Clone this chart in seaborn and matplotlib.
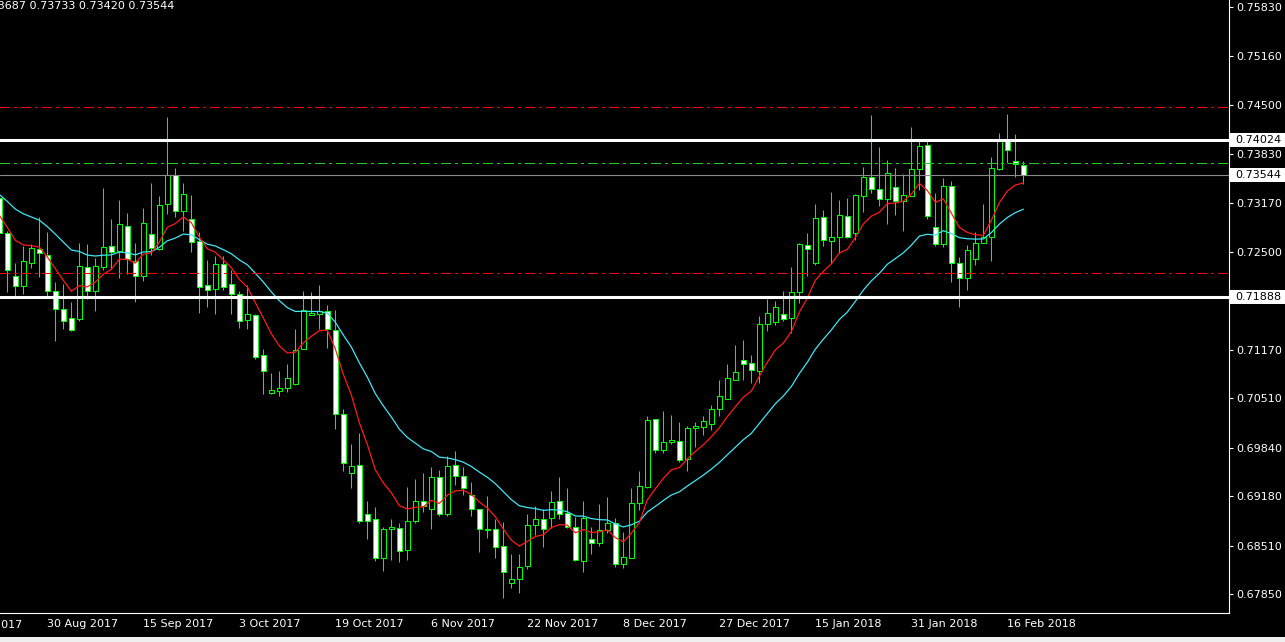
import matplotlib
matplotlib.use("Agg")
import matplotlib.pyplot as plt
import matplotlib.transforms as mtransforms
from matplotlib.patches import Rectangle
import numpy as np
import pandas as pd
import seaborn as sns

# daily candles, 22 Aug 2017 - 20 Feb 2018
opens = [
    0.7323, 0.7276, 0.7217, 0.7204, 0.7235, 0.7254, 0.7246, 0.7197, 0.7172, 0.7160,
    0.7159, 0.7230, 0.7197, 0.7230, 0.7258, 0.7251, 0.7285, 0.7238, 0.7217, 0.7274,
    0.7254, 0.7315, 0.7354, 0.7306, 0.7295, 0.7265, 0.7205, 0.7200, 0.7234, 0.7206,
    0.7193, 0.7158, 0.7164, 0.7110, 0.7058, 0.7061, 0.7065, 0.7071, 0.7118, 0.7164,
    0.7166, 0.7170, 0.7144, 0.7030, 0.6950, 0.6961, 0.6894, 0.6887, 0.6834, 0.6874,
    0.6875, 0.6845, 0.6885, 0.6912, 0.6901, 0.6944, 0.6894, 0.6961, 0.6946, 0.6920,
    0.6901, 0.6872, 0.6874, 0.6851, 0.6800, 0.6806, 0.6824, 0.6879, 0.6887, 0.6888,
    0.6912, 0.6895, 0.6876, 0.6830, 0.6860, 0.6855, 0.6872, 0.6882, 0.6826, 0.6834,
    0.6909, 0.6931, 0.7023, 0.6981, 0.6992, 0.6993, 0.6969, 0.7011, 0.7012, 0.7016,
    0.7037, 0.7050, 0.7076, 0.7103, 0.7099, 0.7088, 0.7152, 0.7155, 0.7166, 0.7160,
    0.7196, 0.7259, 0.7235, 0.7297, 0.7265, 0.7270, 0.7299, 0.7276, 0.7326, 0.7352,
    0.7336, 0.7322, 0.7338, 0.7319, 0.7326, 0.7363, 0.7395, 0.7284, 0.7261, 0.7339,
    0.7235, 0.7215, 0.7240, 0.7262, 0.7270, 0.7363, 0.7401, 0.7373, 0.73687,
]
highs = [
    0.7326, 0.7278, 0.7235, 0.7258, 0.7261, 0.7297, 0.7277, 0.7209, 0.7206, 0.7182,
    0.7262, 0.7261, 0.7242, 0.7337, 0.7295, 0.7321, 0.7303, 0.7262, 0.7310, 0.7344,
    0.7326, 0.7433, 0.7364, 0.7344, 0.7327, 0.7277, 0.7239, 0.7245, 0.7245, 0.7225,
    0.7197, 0.7205, 0.7166, 0.7118, 0.7086, 0.7088, 0.7098, 0.7145, 0.7197, 0.7196,
    0.7205, 0.7178, 0.7171, 0.7037, 0.6989, 0.7004, 0.6912, 0.6904, 0.6876, 0.6887,
    0.6882, 0.6931, 0.6942, 0.6950, 0.6958, 0.6954, 0.6973, 0.6980, 0.6958, 0.6938,
    0.6901, 0.6918, 0.6887, 0.6883, 0.6840, 0.6840, 0.6894, 0.6905, 0.6901, 0.6925,
    0.6944, 0.6929, 0.6890, 0.6912, 0.6876, 0.6908, 0.6917, 0.6888, 0.6870, 0.6929,
    0.6952, 0.7027, 0.7023, 0.7034, 0.7029, 0.7019, 0.7014, 0.7019, 0.7027, 0.7042,
    0.7076, 0.7098, 0.7124, 0.7130, 0.7110, 0.7163, 0.7186, 0.7184, 0.7197, 0.7230,
    0.7262, 0.7276, 0.7315, 0.7307, 0.7331, 0.7321, 0.7323, 0.7329, 0.7365, 0.7436,
    0.7393, 0.7375, 0.7364, 0.7356, 0.7420, 0.7401, 0.7401, 0.7330, 0.7350, 0.7346,
    0.7243, 0.7259, 0.7277, 0.7315, 0.7379, 0.7411, 0.7437, 0.7410, 0.73733,
]
lows = [
    0.7273, 0.7196, 0.7190, 0.7193, 0.7228, 0.7216, 0.7189, 0.7129, 0.7145, 0.7143,
    0.7156, 0.7186, 0.7170, 0.7225, 0.7227, 0.7215, 0.7220, 0.7182, 0.7211, 0.7246,
    0.7253, 0.7302, 0.7297, 0.7278, 0.7250, 0.7167, 0.7175, 0.7166, 0.7198, 0.7166,
    0.7147, 0.7145, 0.7105, 0.7057, 0.7057, 0.7054, 0.7060, 0.7069, 0.7118, 0.7164,
    0.7145, 0.7120, 0.7010, 0.6952, 0.6929, 0.6882, 0.6860, 0.6830, 0.6817, 0.6832,
    0.6829, 0.6832, 0.6882, 0.6897, 0.6874, 0.6891, 0.6892, 0.6934, 0.6920, 0.6891,
    0.6843, 0.6861, 0.6834, 0.6780, 0.6794, 0.6787, 0.6819, 0.6866, 0.6849, 0.6875,
    0.6887, 0.6875, 0.6830, 0.6815, 0.6840, 0.6851, 0.6868, 0.6822, 0.6821, 0.6834,
    0.6900, 0.6929, 0.6977, 0.6977, 0.6989, 0.6965, 0.6952, 0.6985, 0.7001, 0.7008,
    0.7027, 0.7050, 0.7076, 0.7076, 0.7072, 0.7072, 0.7143, 0.7151, 0.7156, 0.7140,
    0.7180, 0.7217, 0.7232, 0.7258, 0.7235, 0.7249, 0.7269, 0.7266, 0.7304, 0.7330,
    0.7313, 0.7288, 0.7300, 0.7278, 0.7326, 0.7334, 0.7295, 0.7258, 0.7257, 0.7209,
    0.7175, 0.7198, 0.7232, 0.7262, 0.7238, 0.7361, 0.7371, 0.7352, 0.73420,
]
closes = [
    0.7276, 0.7225, 0.7204, 0.7238, 0.7255, 0.7249, 0.7197, 0.7172, 0.7156, 0.7144,
    0.7231, 0.7197, 0.7231, 0.7257, 0.7250, 0.7288, 0.7240, 0.7217, 0.7289, 0.7255,
    0.7314, 0.7354, 0.7306, 0.7329, 0.7263, 0.7202, 0.7198, 0.7234, 0.7202, 0.7193,
    0.7156, 0.7166, 0.7107, 0.7088, 0.7063, 0.7065, 0.7079, 0.7117, 0.7171, 0.7167,
    0.7170, 0.7145, 0.7030, 0.6963, 0.6959, 0.6885, 0.6885, 0.6834, 0.6874, 0.6876,
    0.6844, 0.6885, 0.6912, 0.6905, 0.6944, 0.6894, 0.6959, 0.6946, 0.6929, 0.6901,
    0.6874, 0.6874, 0.6849, 0.6815, 0.6806, 0.6822, 0.6879, 0.6887, 0.6874, 0.6910,
    0.6894, 0.6876, 0.6832, 0.6889, 0.6855, 0.6872, 0.6882, 0.6826, 0.6836, 0.6909,
    0.6932, 0.7022, 0.6981, 0.6992, 0.6995, 0.6967, 0.7011, 0.7014, 0.7020, 0.7037,
    0.7054, 0.7079, 0.7087, 0.7098, 0.7090, 0.7152, 0.7167, 0.7175, 0.7159, 0.7196,
    0.7261, 0.7254, 0.7296, 0.7266, 0.7270, 0.7300, 0.7270, 0.7327, 0.7352, 0.7336,
    0.7322, 0.7357, 0.7319, 0.7327, 0.7363, 0.7394, 0.7299, 0.7261, 0.7339, 0.7235,
    0.7215, 0.7253, 0.7262, 0.7270, 0.7364, 0.7401, 0.7388, 0.7369, 0.73544,
]

# moving average values at the first visible bar
fast_ma_start = 0.7300
slow_ma_start = 0.7328

tick_labels = [
    "14 Aug 2017", "30 Aug 2017", "15 Sep 2017", "3 Oct 2017", "19 Oct 2017",
    "6 Nov 2017", "22 Nov 2017", "8 Dec 2017", "27 Dec 2017", "15 Jan 2018",
    "31 Jan 2018", "16 Feb 2018",
]
price_ticks = [0.75830, 0.75160, 0.74500, 0.73830, 0.73170, 0.72500,
               0.71170, 0.70510, 0.69840, 0.69180, 0.68510, 0.67850]
support_resistance = [0.74024, 0.71888]
bid_price = 0.73544
pivot_levels = [0.7447, 0.7221]
green_level = 0.7371
header = "0.73687 0.73733 0.73420 0.73544"

# trading calendar (no bars on 25 Dec and 1 Jan)
calendar = pd.bdate_range("2017-08-14", "2018-02-20").drop(
    pd.to_datetime(["2017-12-25", "2018-01-01"]))
bar_dates = calendar[calendar >= "2017-08-22"]

df = pd.DataFrame({"date": bar_dates, "open": opens, "high": highs,
                   "low": lows, "close": closes})
df["pos"] = calendar.get_indexer(df["date"])
df["fast"] = pd.Series([fast_ma_start] + closes[1:]).ewm(span=8, adjust=False).mean()
df["slow"] = pd.Series([slow_ma_start] + closes[1:]).ewm(span=21, adjust=False).mean()
tick_pos = calendar.get_indexer(pd.to_datetime(tick_labels, format="%d %b %Y"))

sns.set_theme(style="dark", rc={
    "figure.facecolor": "black",
    "axes.facecolor": "black",
    "lines.scale_dashes": False,
})
plt.rcParams["font.family"] = ["DejaVu Sans"]
FS = 8

W, H = 1285, 642
fig = plt.figure(figsize=(W / 100, H / 100), dpi=100)
ax = fig.add_axes([0, 29 / H, 1229 / W, 1 - 29 / H])

green = "#00ff00"
bull = df["close"] >= df["open"]
body_low = df[["open", "close"]].min(axis=1)
body_h = (df["close"] - df["open"]).abs().clip(lower=0.00003)

ax.vlines(df["pos"], df["low"], df["high"], color=green, lw=0.75, zorder=2)
ax.bar(df["pos"], body_h, bottom=body_low, width=0.6,
       color=np.where(bull, "black", "white"), edgecolor=green,
       linewidth=0.75, zorder=3)

sns.lineplot(data=df, x="pos", y="slow", color="#3fe6f5", lw=0.9, ax=ax, zorder=4)
sns.lineplot(data=df, x="pos", y="fast", color="#ff1a1a", lw=0.9, ax=ax, zorder=4)

for lvl in pivot_levels:
    ax.axhline(lvl, color="#ff0000", lw=1.0, dashes=(7, 3, 2, 3),
               antialiased=False, zorder=5)
ax.axhline(green_level, color="#20d020", lw=1.0, dashes=(7, 3, 2, 3),
           antialiased=False, zorder=5)
ax.axhline(bid_price, color="#8a8a8a", lw=0.8, zorder=5)
for lvl in support_resistance:
    ax.axhline(lvl, color="white", lw=2.2, zorder=6)

ax.set_xticks(tick_pos)
ax.set_xticklabels(tick_labels, ha="left")
ax.yaxis.tick_right()
ax.set_yticks(price_ticks)
ax.set_yticklabels([f"{p:.5f}" for p in price_ticks])
ax.set_xlim(6.09, 159.7)
ax.set_ylim(0.75921 - 613 * 0.0001358, 0.75921)
ax.set_xlabel("")
ax.set_ylabel("")
ax.tick_params(axis="both", colors="white", labelcolor="white", labelsize=FS,
               length=3, width=0.8, direction="out")
ax.tick_params(axis="x", pad=1.5)
ax.tick_params(axis="y", pad=2)
ax.grid(False)
for side in ["left", "top"]:
    ax.spines[side].set_visible(False)
for side in ["right", "bottom"]:
    ax.spines[side].set_color("white")
    ax.spines[side].set_linewidth(0.8)

# the first date label sits left of the window and is cut by the edge
xlab = mtransforms.blended_transform_factory(ax.transData, ax.transAxes)
ax.text(tick_pos[0], -6.5 / 613, tick_labels[0], transform=xlab, color="white",
        fontsize=FS, ha="left", va="top", clip_on=False)

# highlighted price labels on the right scale
blend = mtransforms.blended_transform_factory(fig.transFigure, ax.transData)
half = 7 * 0.0001358
for lvl in support_resistance + [bid_price]:
    fig.add_artist(Rectangle((1230 / W, lvl - half), 55 / W, 2 * half,
                             transform=blend, facecolor="white",
                             edgecolor="none", clip_on=False))
    fig.text(1235 / W, lvl, f"{lvl:.5f}", transform=blend, color="black",
             fontsize=FS, va="center", ha="left")

fig.text(-20 / W, 1 - 6 / H, header, color="white", fontsize=FS,
         va="center", ha="left")
fig.add_artist(Rectangle((0, 0), 1, 5 / H, transform=fig.transFigure,
                         facecolor="#f0f0f0", edgecolor="none"))

fig.savefig("out.png", dpi=100, facecolor="black")
